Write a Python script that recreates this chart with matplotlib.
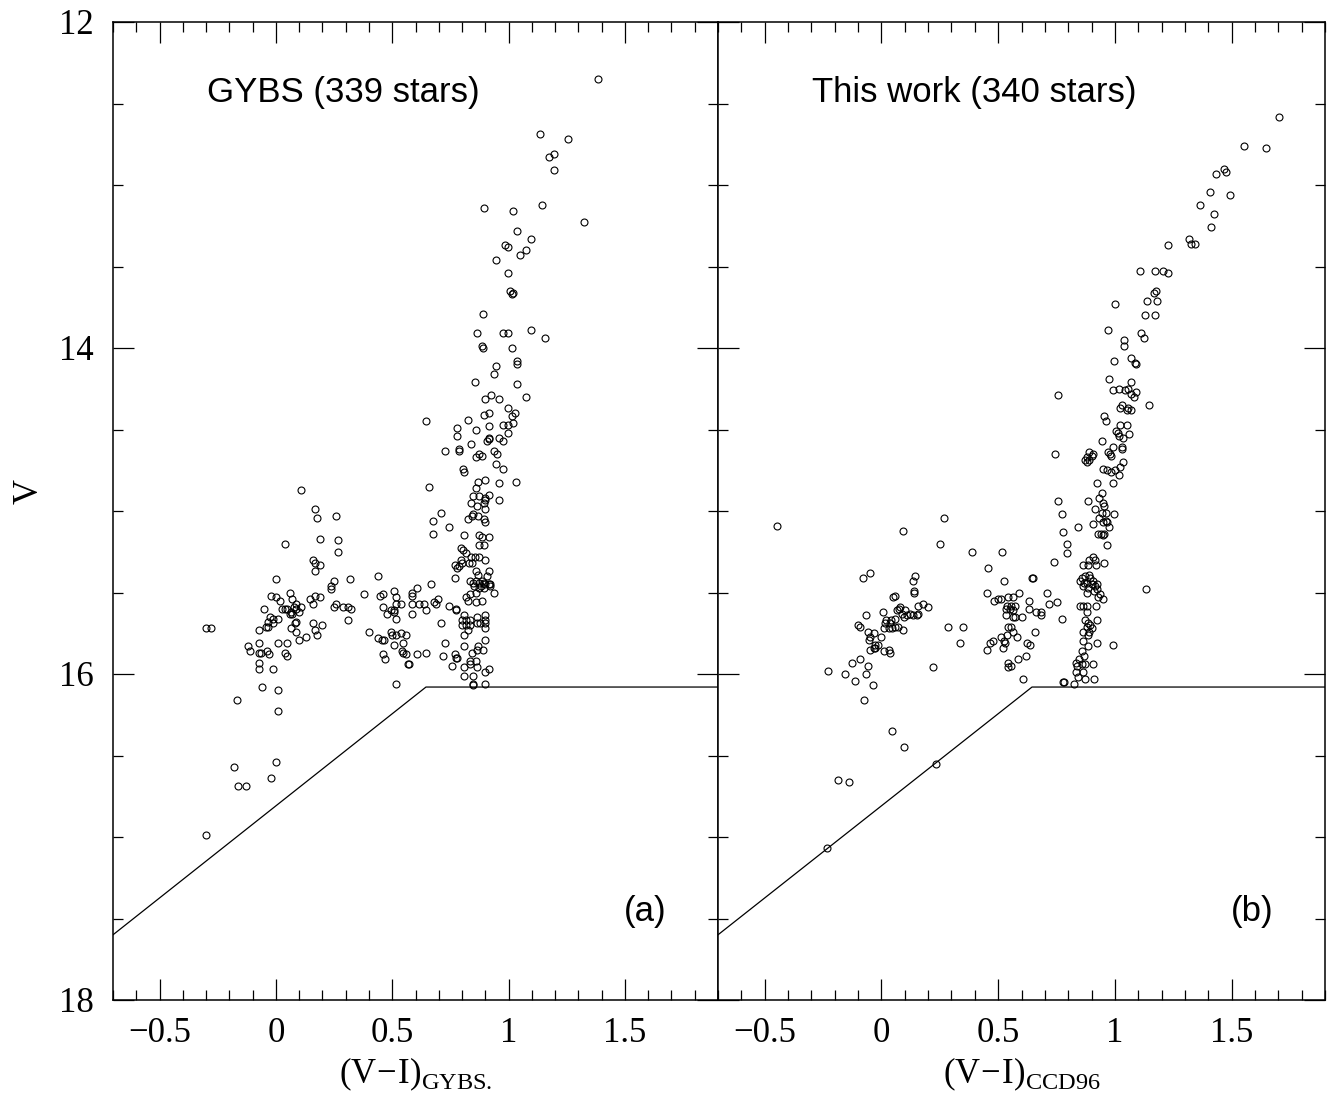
import numpy as np
import matplotlib
matplotlib.use("Agg")
import matplotlib.pyplot as plt
from matplotlib.ticker import MultipleLocator

plt.rcParams['font.family'] = ['Liberation Serif', 'DejaVu Serif']
plt.rcParams['mathtext.fontset'] = 'custom'
plt.rcParams['mathtext.rm'] = 'Liberation Serif'

# (V-I, V)
gybs_points = [
    (1.385, 12.35), (1.135, 12.69), (1.256, 12.72), (1.175, 12.83), (1.197, 12.81), (1.195, 12.91),
    (0.896, 13.14), (1.017, 13.16), (1.145, 13.12), (1.325, 13.23), (1.036, 13.28), (1.095, 13.33),
    (0.986, 13.37), (0.997, 13.38), (1.075, 13.40), (1.047, 13.43), (0.946, 13.46), (0.996, 13.54),
    (1.007, 13.65), (1.017, 13.66), (1.014, 13.67), (0.888, 13.79), (0.866, 13.91), (0.976, 13.91),
    (0.997, 13.91), (1.095, 13.89), (1.155, 13.94), (0.886, 13.99), (0.888, 14.00), (1.016, 14.00),
    (1.036, 14.08), (1.036, 14.10), (0.947, 14.11), (0.937, 14.16), (0.856, 14.21), (1.036, 14.22),
    (0.897, 14.31), (0.926, 14.29), (0.957, 14.31), (1.075, 14.30), (0.996, 14.37), (1.029, 14.40),
    (1.016, 14.42), (0.896, 14.41), (0.918, 14.40),
    (0.647, 14.45), (0.826, 14.44), (0.974, 14.47), (0.997, 14.47), (1.017, 14.46), (0.779, 14.49),
    (0.858, 14.50), (0.917, 14.48), (0.997, 14.52), (0.779, 14.54), (0.915, 14.55), (0.909, 14.57),
    (0.917, 14.56), (0.957, 14.55), (0.974, 14.57), (0.838, 14.59), (0.726, 14.63), (0.786, 14.62),
    (0.786, 14.63), (0.875, 14.65), (0.886, 14.66), (0.937, 14.63), (0.950, 14.65), (0.858, 14.67),
    (0.946, 14.71), (0.977, 14.74), (0.805, 14.74), (0.808, 14.76), (0.869, 14.82), (0.897, 14.81),
    (0.957, 14.83), (1.031, 14.82), (0.658, 14.85), (0.858, 14.86), (0.846, 14.91), (0.875, 14.91),
    (0.897, 14.92), (0.900, 14.93), (0.915, 14.90), (0.957, 14.93), (0.838, 14.95), (0.865, 14.97),
    (0.893, 14.95), (0.897, 14.99), (0.708, 15.01), (0.848, 15.02), (0.869, 15.03), (0.843, 15.03),
    (0.826, 15.05), (0.894, 15.05), (0.897, 15.07), (0.677, 15.06), (0.746, 15.10), (0.677, 15.14),
    (0.808, 15.15), (0.875, 15.15), (0.886, 15.16), (0.915, 15.16), (0.875, 15.21), (0.894, 15.21),
    (0.794, 15.23), (0.803, 15.24), (0.818, 15.26), (0.838, 15.28), (0.855, 15.28), (0.875, 15.28),
    (0.897, 15.30), (0.794, 15.30), (0.800, 15.32), (0.832, 15.32), (0.843, 15.32), (0.768, 15.33),
    (0.786, 15.34), (0.779, 15.35), (0.858, 15.37), (0.868, 15.39), (0.917, 15.37), (0.909, 15.40),
    (0.768, 15.41), (0.833, 15.43), (0.846, 15.44), (0.858, 15.43), (0.872, 15.44), (0.886, 15.43),
    (0.893, 15.44), (0.900, 15.45), (0.915, 15.45), (0.922, 15.45), (0.667, 15.45), (0.607, 15.47),
    (0.587, 15.50), (0.587, 15.52), (0.850, 15.46), (0.872, 15.47), (0.893, 15.47), (0.883, 15.46),
    (0.858, 15.50), (0.936, 15.50), (0.919, 15.46), (0.818, 15.53), (0.836, 15.51), (0.698, 15.54),
    (0.679, 15.56), (0.687, 15.57), (0.826, 15.55), (0.858, 15.56), (0.886, 15.55), (0.587, 15.57),
    (0.615, 15.57), (0.637, 15.57), (0.647, 15.61), (0.587, 15.63), (0.746, 15.58), (0.772, 15.60),
    (0.772, 15.61), (0.808, 15.64), (0.800, 15.67), (0.798, 15.70), (0.815, 15.67), (0.833, 15.67),
    (0.818, 15.70), (0.836, 15.70), (0.826, 15.73), (0.808, 15.76), (0.865, 15.65), (0.897, 15.64),
    (0.897, 15.67), (0.897, 15.69), (0.897, 15.72), (0.879, 15.69), (0.865, 15.69), (0.708, 15.69),
    (0.897, 15.79), (0.726, 15.81), (0.808, 15.83), (0.868, 15.83), (0.865, 15.85), (0.889, 15.85),
    (0.608, 15.88), (0.647, 15.87), (0.718, 15.89), (0.769, 15.88), (0.779, 15.90), (0.775, 15.90),
    (0.843, 15.87), (0.573, 15.94), (0.755, 15.95), (0.836, 15.92), (0.836, 15.94), (0.858, 15.92),
    (0.865, 15.96), (0.808, 15.96), (0.808, 16.01), (0.846, 16.01), (0.897, 15.99), (0.917, 15.97),
    (0.846, 16.06), (0.846, 16.07), (0.897, 16.06),
    (0.110, 14.87), (0.168, 14.99), (0.178, 15.04), (0.259, 15.03), (0.189, 15.17), (0.268, 15.18),
    (0.269, 15.25), (0.038, 15.20), (0.160, 15.30), (0.170, 15.32), (0.188, 15.33), (0.168, 15.37),
    (-0.001, 15.42), (0.248, 15.43), (0.238, 15.46), (0.239, 15.48), (0.318, 15.42), (0.437, 15.40),
    (-0.021, 15.52), (0.000, 15.53), (0.018, 15.55), (0.060, 15.50), (0.070, 15.54), (0.148, 15.54),
    (0.168, 15.52), (0.188, 15.53), (0.158, 15.57), (0.088, 15.57), (0.106, 15.59), (0.085, 15.60),
    (0.077, 15.59), (-0.050, 15.60), (0.028, 15.60), (0.038, 15.60), (0.048, 15.60), (0.067, 15.62),
    (0.060, 15.63), (0.071, 15.63), (0.098, 15.62), (0.248, 15.59), (0.259, 15.57), (0.288, 15.59),
    (0.308, 15.59), (0.321, 15.60), (0.377, 15.51), (0.446, 15.52), (0.459, 15.51), (0.507, 15.49),
    (0.518, 15.53), (0.459, 15.59), (0.477, 15.63), (0.494, 15.61), (0.507, 15.61), (0.507, 15.62),
    (0.518, 15.66), (0.518, 15.57), (0.538, 15.57), (-0.026, 15.65), (-0.014, 15.66), (0.007, 15.66),
    (-0.033, 15.68), (-0.043, 15.71), (-0.033, 15.71), (-0.012, 15.69), (0.088, 15.68), (0.081, 15.69),
    (0.067, 15.72), (0.088, 15.74), (0.160, 15.69), (0.167, 15.73), (0.177, 15.76), (0.200, 15.70),
    (0.308, 15.67), (-0.301, 15.72), (-0.279, 15.72), (-0.071, 15.73), (0.100, 15.79), (0.128, 15.77),
    (0.399, 15.74), (0.437, 15.78), (0.456, 15.79), (0.466, 15.79), (0.494, 15.74), (0.499, 15.76),
    (0.518, 15.76), (0.538, 15.75), (0.558, 15.76), (0.548, 15.81), (-0.121, 15.83), (-0.111, 15.86),
    (-0.071, 15.81), (0.010, 15.81), (0.048, 15.81), (-0.071, 15.87), (-0.065, 15.87), (-0.040, 15.86),
    (-0.031, 15.88), (0.038, 15.87), (0.048, 15.89), (0.509, 15.82), (0.544, 15.86), (0.548, 15.87),
    (0.558, 15.88), (0.459, 15.88), (0.469, 15.91), (-0.071, 15.93), (-0.071, 15.97), (-0.012, 15.97),
    (0.567, 15.94), (-0.061, 16.08), (0.010, 16.10), (0.518, 16.06),
    (-0.168, 16.16), (0.009, 16.23), (0.000, 16.54), (-0.182, 16.57), (-0.021, 16.64), (-0.161, 16.69),
    (-0.130, 16.69), (-0.301, 16.99),
]

# (V-I, V)
ccd_points = [
    (1.702, 12.58), (1.553, 12.76), (1.648, 12.77), (1.466, 12.90), (1.474, 12.92), (1.433, 12.93),
    (1.406, 13.04), (1.491, 13.06), (1.365, 13.12), (1.423, 13.18), (1.412, 13.26), (1.316, 13.33),
    (1.328, 13.36), (1.342, 13.36), (1.226, 13.37), (1.108, 13.53), (1.170, 13.53), (1.204, 13.53),
    (1.229, 13.54), (1.175, 13.65), (1.167, 13.66), (1.137, 13.71), (1.182, 13.71), (1.001, 13.73),
    (1.130, 13.80), (1.172, 13.80), (0.969, 13.89), (1.114, 13.91), (1.124, 13.94), (1.040, 13.95),
    (1.040, 13.99), (0.996, 14.08), (1.068, 14.06), (1.087, 14.09), (1.091, 14.10), (0.976, 14.19),
    (1.068, 14.21), (1.018, 14.25), (0.993, 14.26), (1.057, 14.25), (1.044, 14.26), (1.068, 14.28),
    (1.091, 14.27), (1.080, 14.30), (0.758, 14.29), (1.145, 14.35), (1.030, 14.35), (1.021, 14.37),
    (1.050, 14.38), (1.067, 14.38), (1.057, 14.37), (0.954, 14.42),
    (0.962, 14.45), (1.024, 14.47), (1.053, 14.47), (1.004, 14.51), (1.013, 14.52), (1.019, 14.54),
    (1.036, 14.55), (1.061, 14.53), (0.943, 14.57), (0.990, 14.61), (1.029, 14.61), (1.030, 14.62),
    (0.969, 14.64), (0.983, 14.66), (0.979, 14.65), (0.744, 14.65), (0.890, 14.64), (0.900, 14.66),
    (0.882, 14.67), (0.872, 14.69), (0.879, 14.70), (0.890, 14.69), (0.907, 14.65), (1.036, 14.70),
    (1.024, 14.73), (1.000, 14.75), (0.982, 14.76), (0.947, 14.74), (0.967, 14.75), (1.018, 14.78),
    (0.990, 14.83), (0.922, 14.83), (0.943, 14.89), (0.933, 14.92), (0.950, 14.95), (0.953, 14.97),
    (0.916, 14.99), (0.943, 15.01), (0.962, 15.01), (0.933, 15.04), (0.962, 15.06), (0.947, 15.07),
    (0.967, 15.07), (0.976, 15.10), (0.939, 15.14), (0.953, 15.14), (0.947, 15.15), (0.929, 15.14),
    (0.907, 15.08), (0.996, 15.02), (0.886, 14.94), (0.758, 14.94), (0.772, 15.02), (0.840, 15.10),
    (0.776, 15.13), (0.793, 15.20), (0.796, 15.26), (0.965, 15.21), (0.739, 15.31), (0.865, 15.33),
    (0.886, 15.33), (0.905, 15.28), (0.915, 15.30), (0.919, 15.33), (0.890, 15.30), (0.953, 15.32),
    (0.648, 15.41), (0.645, 15.41), (0.858, 15.41), (0.850, 15.43), (0.872, 15.40), (0.882, 15.44),
    (0.893, 15.41), (0.907, 15.43), (0.900, 15.45), (0.886, 15.47), (0.915, 15.46), (0.922, 15.48),
    (0.936, 15.51), (0.947, 15.54), (0.929, 15.53), (0.865, 15.46), (0.879, 15.50), (0.868, 15.44),
    (0.889, 15.39), (0.911, 15.49), (0.924, 15.45), (1.132, 15.48), (0.751, 15.56), (0.850, 15.58),
    (0.865, 15.58), (0.879, 15.58), (0.882, 15.62), (0.872, 15.67), (0.886, 15.69), (0.882, 15.71),
    (0.893, 15.70), (0.900, 15.72), (0.890, 15.74), (0.886, 15.76), (0.865, 15.74), (0.862, 15.80),
    (0.919, 15.58), (0.922, 15.67), (0.772, 15.66), (0.922, 15.81), (0.990, 15.82), (0.886, 15.83),
    (0.858, 15.86), (0.868, 15.89), (0.847, 15.91), (0.833, 15.93), (0.836, 15.95), (0.858, 15.94),
    (0.872, 15.94), (0.832, 15.99), (0.865, 15.99), (0.907, 15.94), (0.843, 16.02), (0.872, 16.03),
    (0.910, 16.03), (0.779, 16.05), (0.782, 16.05), (0.825, 16.06),
    (-0.446, 15.09), (0.091, 15.12), (0.266, 15.04), (0.249, 15.20), (0.389, 15.25), (0.518, 15.25),
    (0.457, 15.35), (-0.047, 15.38), (-0.078, 15.41), (0.145, 15.40), (0.135, 15.43), (0.523, 15.43),
    (0.138, 15.50), (0.140, 15.49), (0.452, 15.50), (0.591, 15.50), (0.708, 15.50), (0.048, 15.53),
    (0.060, 15.52), (0.501, 15.54), (0.511, 15.54), (0.541, 15.53), (0.563, 15.53), (0.484, 15.55),
    (0.634, 15.55), (0.719, 15.57), (0.155, 15.58), (0.178, 15.57), (0.198, 15.59), (0.074, 15.60),
    (0.081, 15.59), (0.103, 15.61), (0.067, 15.61), (0.006, 15.62), (-0.067, 15.64), (0.537, 15.58),
    (0.554, 15.58), (0.573, 15.58), (0.549, 15.60), (0.563, 15.61), (0.535, 15.60), (0.630, 15.60),
    (0.662, 15.62), (0.682, 15.62), (0.684, 15.64), (0.110, 15.64), (0.124, 15.63), (0.135, 15.64),
    (0.153, 15.64), (0.157, 15.63), (0.088, 15.63), (0.098, 15.65), (0.535, 15.64), (0.565, 15.65),
    (0.574, 15.65), (0.601, 15.65), (0.021, 15.67), (0.043, 15.67), (0.060, 15.66), (0.017, 15.69),
    (0.038, 15.69), (0.060, 15.71), (0.070, 15.71), (0.013, 15.72), (0.031, 15.72), (0.046, 15.72),
    (0.093, 15.73), (-0.100, 15.70), (-0.090, 15.71), (-0.057, 15.74), (-0.033, 15.75), (-0.001, 15.77),
    (-0.051, 15.77), (-0.054, 15.79), (-0.014, 15.82), (-0.026, 15.82), (-0.033, 15.84), (-0.026, 15.84),
    (-0.047, 15.85), (0.013, 15.86), (0.031, 15.85), (0.036, 15.87), (0.286, 15.71), (0.348, 15.71),
    (0.338, 15.81), (0.657, 15.74), (0.544, 15.71), (0.554, 15.71), (0.563, 15.74), (0.537, 15.76),
    (0.523, 15.80), (0.511, 15.77), (0.580, 15.77), (0.530, 15.81), (0.520, 15.84), (0.466, 15.81),
    (0.480, 15.80), (0.454, 15.85), (0.623, 15.81), (0.637, 15.82), (0.544, 15.93), (0.554, 15.95),
    (0.544, 15.96), (0.587, 15.91), (0.618, 15.89), (0.606, 16.03), (-0.125, 15.93), (-0.090, 15.91),
    (-0.058, 15.95), (-0.064, 16.00), (-0.229, 15.98), (-0.154, 16.00), (-0.114, 16.04), (-0.036, 16.07),
    (0.222, 15.96),
    (-0.073, 16.16), (0.047, 16.35), (0.095, 16.45), (0.235, 16.55), (-0.187, 16.65), (-0.140, 16.66),
    (-0.235, 17.07),
]

# selection limit drawn in both panels
limit_vi = [-0.7, 0.645, 1.9]
limit_v = [17.6, 16.08, 16.08]

titles = ['GYBS (339 stars)', 'This work (340 stars)']
tags = ['(a)', '(b)']
xlabels = [r'$\mathrm{(V\!-\!I)}_{\mathrm{GYBS.}}$', r'$\mathrm{(V\!-\!I)}_{\mathrm{CCD96}}$']

fig = plt.figure(figsize=(13.36, 11.08), dpi=100)
ax1 = fig.add_axes([113 / 1336, 1 - 1000 / 1108, 605 / 1336, 978 / 1108])
ax2 = fig.add_axes([718 / 1336, 1 - 1000 / 1108, 607 / 1336, 978 / 1108])

for i, (ax, pts) in enumerate(zip([ax1, ax2], [gybs_points, ccd_points])):
    pts = np.array(pts)
    ax.plot(pts[:, 0], pts[:, 1], 'o', ms=5, mfc='none', mec='black', mew=0.8, ls='none')
    ax.plot(limit_vi, limit_v, color='black', lw=0.9)
    ax.set_xlim(-0.7, 1.9)
    ax.set_ylim(18, 12)
    ax.xaxis.set_major_locator(MultipleLocator(0.5))
    ax.xaxis.set_minor_locator(MultipleLocator(0.1))
    ax.yaxis.set_major_locator(MultipleLocator(2))
    ax.yaxis.set_minor_locator(MultipleLocator(0.5))
    ax.xaxis.set_major_formatter(matplotlib.ticker.FuncFormatter(
        lambda v, p: ('\u2212' if v < 0 else '') + ('%g' % abs(v))))
    ax.tick_params(which='both', direction='in', top=True, right=True, width=0.9, labelsize=25)
    ax.tick_params(which='major', length=15)
    ax.tick_params(which='minor', length=7.5)
    ax.tick_params(axis='x', pad=12)
    ax.tick_params(axis='y', pad=14)
    for sp in ax.spines.values():
        sp.set_linewidth(1.1)
    ax.set_xlabel(xlabels[i], fontsize=25, labelpad=4)
    ax.text(0.155, 0.928, titles[i], transform=ax.transAxes, fontsize=25,
            family='Liberation Sans', ha='left', va='center')
    ax.text(0.88, 0.09, tags[i], transform=ax.transAxes, fontsize=25,
            family='Liberation Sans', ha='center', va='center')

ax1.set_ylabel('V', fontsize=25)
ax1.yaxis.set_label_coords(-0.112, 0.52)
ax2.tick_params(axis='y', labelleft=False)

fig.savefig('out.png', dpi=100)
